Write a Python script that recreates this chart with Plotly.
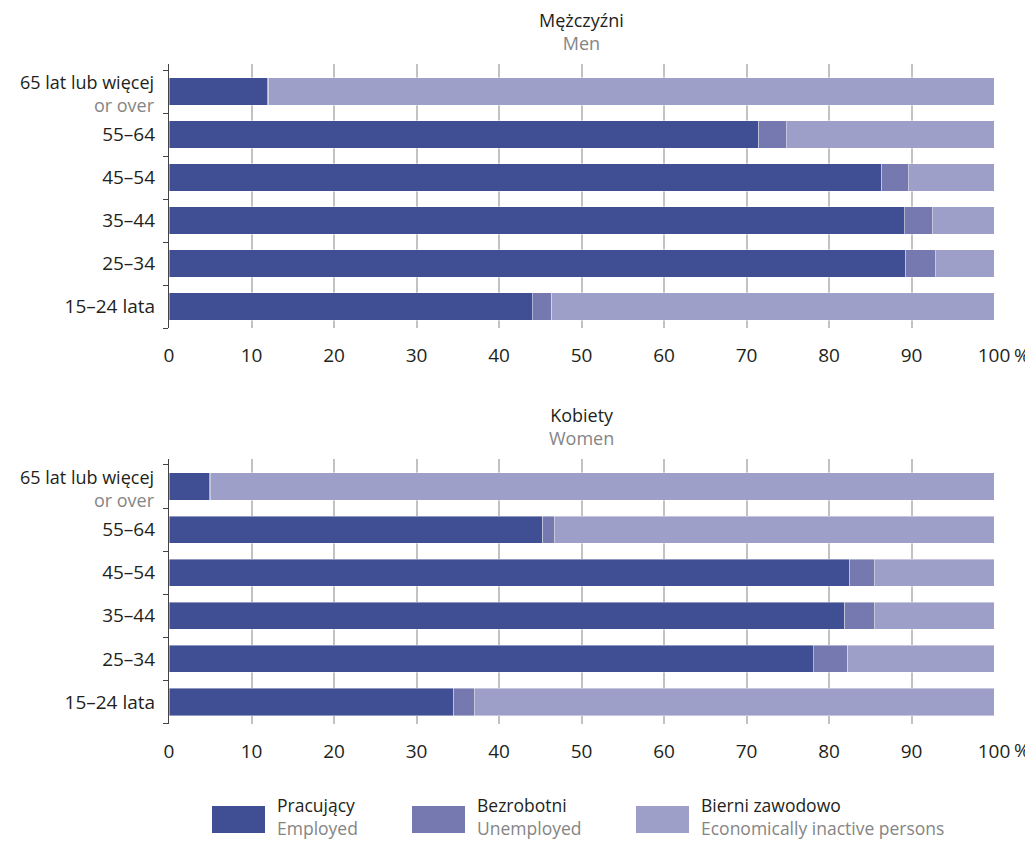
import plotly.graph_objects as go

# ---- data (top to bottom as displayed) ----
age_groups = ["65+", "55-64", "45-54", "35-44", "25-34", "15-24"]
age_labels = ["", "55\u201364", "45\u201354", "35\u201344", "25\u201334", "15\u201324 lata"]
oldest_label = ("65 lat lub więcej", "or over")
men_employed = [11.9, 71.5, 86.4, 89.1, 89.3, 44.0]
men_unemployed = [0.2, 3.3, 3.2, 3.4, 3.6, 2.4]
men_inactive = [87.9, 25.2, 10.4, 7.5, 7.1, 53.6]
women_employed = [4.9, 45.3, 82.5, 81.9, 78.1, 34.5]
women_unemployed = [0.1, 1.4, 3.0, 3.6, 4.2, 2.5]
women_inactive = [95.0, 53.3, 14.5, 14.5, 17.7, 63.0]
x_ticks = [0, 10, 20, 30, 40, 50, 60, 70, 80, 90, 100]
x_tick_text = ["0", "10", "20", "30", "40", "50", "60", "70", "80", "90", "100"]

series_names = [("Pracujący", "Employed"), ("Bezrobotni", "Unemployed"),
                ("Bierni zawodowo", "Economically inactive persons")]
colors = ["#404f93", "#7579b0", "#9d9fc8"]

FONT = "Open Sans"
FS = 19
FS2 = 18
DARK = "#231f20"
GRAY = "#858585"

# page body has an 8px margin -> draw in a slightly smaller figure
OFF = 8
W, H = 1033 - OFF, 842 - OFF
L_PX, R_PX = 169, 994          # plot left/right in reference pixels

def fx(px):
    return px - OFF

def fy(py):
    return py - OFF

def ypaper(py):
    return 1 - fy(py) / H

plot_w = R_PX - L_PX
def xpaper(px):
    return (px - L_PX) / plot_w

def two_line(a, b):
    return f"{a}<br><span style='color:{GRAY}'>{b}</span>"

fig = go.Figure()
panels = [
    ("x", "y", [men_employed, men_unemployed, men_inactive]),
    ("x2", "y2", [women_employed, women_unemployed, women_inactive]),
]
for xa, ya, vals in panels:
    for i, v in enumerate(vals):
        fig.add_trace(go.Bar(
            x=v, y=age_groups, orientation="h", xaxis=xa, yaxis=ya,
            name=series_names[i][1],
            marker=dict(color=colors[i], line=dict(color="rgba(255,255,255,0.6)", width=0.7)),
            width=0.63, showlegend=False, hoverinfo="x+y",
        ))

top_dom = [ypaper(328), ypaper(64)]
bot_dom = [ypaper(723.5), ypaper(459)]

xaxis_common = dict(
    range=[0, 100], tickvals=x_ticks, ticktext=x_tick_text,
    showgrid=True, gridcolor="#c2c2c2", gridwidth=1.5, zeroline=False,
    showline=False, ticks="", tickfont=dict(family=FONT, size=FS, color=DARK),
    ticklabelstandoff=14, automargin=False, fixedrange=True,
)
yaxis_common = dict(
    categoryorder="array", categoryarray=age_groups, autorange="reversed",
    tickmode="array", tickvals=age_groups, ticktext=age_labels,
    tickson="boundaries", ticks="outside", ticklen=5, tickcolor="#444",
    showline=True, linecolor="#444", linewidth=1.2, showgrid=False,
    tickfont=dict(family=FONT, size=FS, color=DARK),
    ticklabelstandoff=9, automargin=False, fixedrange=True,
)

fig.update_layout(
    barmode="stack",
    width=W, height=H,
    margin=dict(l=fx(L_PX), r=W - fx(R_PX), t=0, b=0),
    paper_bgcolor="white", plot_bgcolor="white",
    xaxis=dict(domain=[0, 1], anchor="y", **xaxis_common),
    yaxis=dict(domain=top_dom, anchor="x", **yaxis_common),
    xaxis2=dict(domain=[0, 1], anchor="y2", **xaxis_common),
    yaxis2=dict(domain=bot_dom, anchor="x2", **yaxis_common),
    font=dict(family=FONT, color=DARK),
)

annotations = []
# panel titles
for yc, t1, t2 in [(31.5, "Mężczyźni", "Men"), (426.5, "Kobiety", "Women")]:
    annotations.append(dict(text=two_line(t1, t2), x=0.5, y=ypaper(yc),
                            xref="paper", yref="paper", showarrow=False,
                            font=dict(family=FONT, size=FS2, color=DARK),
                            xanchor="center", yanchor="middle", align="center"))
# two-line label for the oldest group
for ya in ["y", "y2"]:
    annotations.append(dict(text=two_line(*oldest_label), x=xpaper(157), xref="paper",
                            y=age_groups[0], yref=ya, yshift=-2, showarrow=False,
                            xanchor="right", yanchor="middle", align="right",
                            font=dict(family=FONT, size=FS2, color=DARK)))
# percent sign after 100
for xr, yr in [("x", 355), ("x2", 750)]:
    annotations.append(dict(text="%", x=100, xref=xr, y=ypaper(yr), yref="paper",
                            xshift=28, showarrow=False, xanchor="center", yanchor="middle",
                            borderpad=0, font=dict(family=FONT, size=FS, color=DARK)))

# legend (manual)
shapes = []
legend_x = [212, 412, 636]
for i, lx in enumerate(legend_x):
    shapes.append(dict(type="rect", xref="paper", yref="paper",
                       x0=xpaper(lx), x1=xpaper(lx + 53), y0=ypaper(833), y1=ypaper(806),
                       fillcolor=colors[i], line=dict(width=0)))
    annotations.append(dict(text=two_line(*series_names[i]), x=xpaper(lx + 64),
                            y=ypaper(816), xref="paper", yref="paper", showarrow=False,
                            xanchor="left", yanchor="middle", align="left", borderpad=0,
                            font=dict(family=FONT, size=17.5, color=DARK)))

fig.update_layout(annotations=annotations, shapes=shapes)
fig.write_html("out.html")
